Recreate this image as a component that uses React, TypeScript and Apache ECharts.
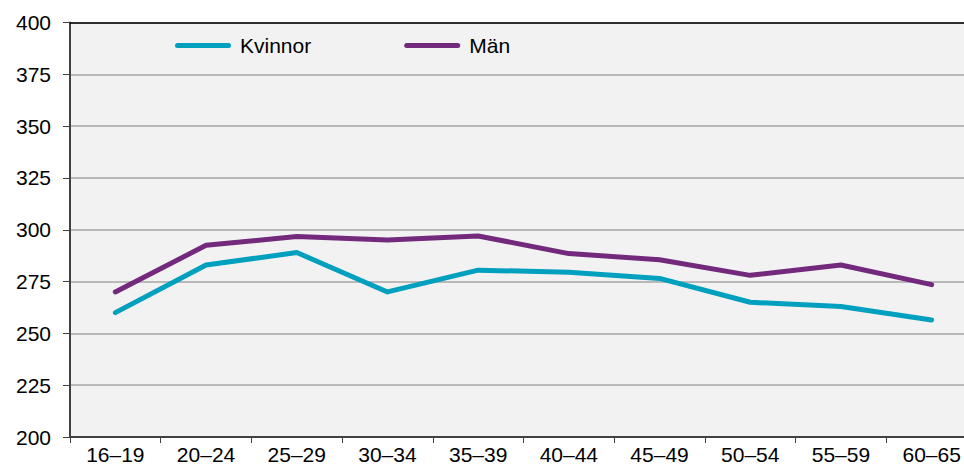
import React, { useEffect, useRef } from "react";
import * as echarts from "echarts";

const categories = ["16–19", "20–24", "25–29", "30–34", "35–39", "40–44", "45–49", "50–54", "55–59", "60–65"];
const kvinnor = [260, 283, 289, 270, 280.5, 279.5, 276.5, 265, 263, 256.5];
const man = [270, 292.5, 296.7, 295, 297, 288.5, 285.5, 278, 283, 273.5];
const yMin = 200;
const yMax = 400;
const yInterval = 25;

const FONT = "'Liberation Sans', Arial, sans-serif";

export default function App() {
  const ref = useRef<HTMLDivElement>(null);
  useEffect(() => {
    if (!ref.current) return;
    const chart = echarts.init(ref.current, undefined, { renderer: "svg" });
    const iconPath = "path://M2.5,0 H53.5 A2.5,2.5 0 0 1 53.5,5 H2.5 A2.5,2.5 0 0 1 2.5,0 Z";
    chart.setOption({
      animation: false,
      backgroundColor: "#ffffff",
      textStyle: { fontFamily: FONT },
      grid: {
        left: 70,
        top: 22.5,
        width: 907,
        height: 416,
        show: true,
        backgroundColor: "#F2F2F2",
        borderWidth: 0,
      },
      legend: {
        left: 170,
        top: 30,
        itemWidth: 56,
        itemHeight: 5,
        itemGap: 93,
        textStyle: { fontSize: 21, color: "#000", fontFamily: FONT, padding: [0, 0, 0, 4] },
        data: [
          { name: "Kvinnor", icon: iconPath },
          { name: "Män", icon: iconPath },
        ],
      },
      xAxis: [
        {
          type: "category",
          data: categories,
          boundaryGap: true,
          axisLine: { show: true, lineStyle: { color: "#404040", width: 2 } },
          axisTick: { show: true, length: 6, lineStyle: { color: "#404040", width: 1 } },
          axisLabel: { color: "#000", fontSize: 21, margin: 7, fontFamily: FONT },
          splitLine: { show: false },
        },
        {
          type: "category",
          data: categories,
          position: "top",
          axisLine: { show: true, lineStyle: { color: "#000", width: 1.5 } },
          axisTick: { show: false },
          axisLabel: { show: false },
        },
      ],
      yAxis: {
        type: "value",
        min: yMin,
        max: yMax,
        interval: yInterval,
        axisLine: { show: true, lineStyle: { color: "#404040", width: 2 } },
        axisTick: { show: true, length: 7, lineStyle: { color: "#404040", width: 1 } },
        axisLabel: { color: "#000", fontSize: 21, margin: 19, fontFamily: FONT },
        splitLine: { show: true, lineStyle: { color: "#A6A6A6", width: 1.5 } },
      },
      series: [
        {
          name: "Kvinnor",
          type: "line",
          data: kvinnor,
          symbol: "none",
          lineStyle: { color: "#00A0BE", width: 5, cap: "round", join: "round" },
          itemStyle: { color: "#00A0BE" },
        },
        {
          name: "Män",
          type: "line",
          data: man,
          symbol: "none",
          lineStyle: { color: "#732A7D", width: 5, cap: "round", join: "round" },
          itemStyle: { color: "#732A7D" },
        },
      ],
    });
    return () => chart.dispose();
  }, []);
  return (
    <div style={{ position: "fixed", left: 0, top: 0, width: 964, height: 465, overflow: "hidden" }}>
      <div ref={ref} style={{ width: 990, height: 465 }} />
    </div>
  );
}
